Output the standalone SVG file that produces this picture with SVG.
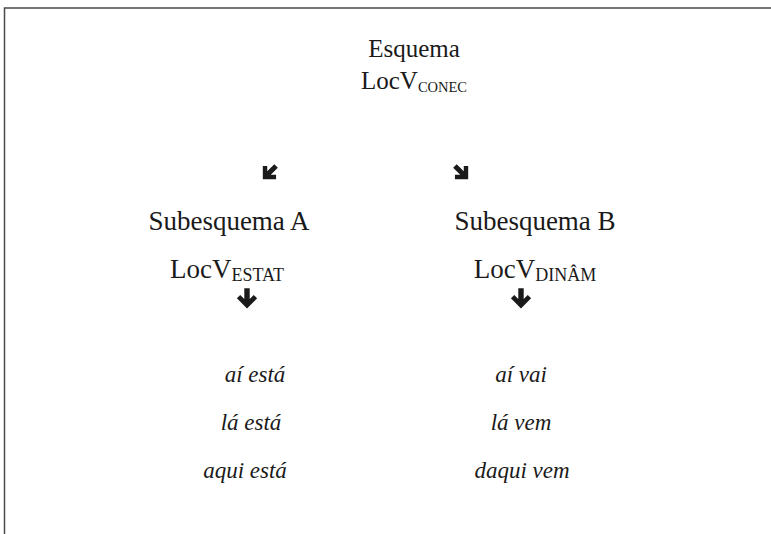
<svg xmlns="http://www.w3.org/2000/svg" width="771" height="534" viewBox="0 0 771 534">
<style>
  .t { font-family: "Liberation Serif", "Times New Roman", serif; fill: #1a1a1a; text-anchor: middle; }
  .h { font-size: 25px; }
  .s { font-size: 27px; }
  .sub1 { font-size: 14.5px; }
  .sub2 { font-size: 18px; }
  .i { font-family: "Liberation Serif", "Times New Roman", serif; font-style: italic; font-size: 23px; fill: #1a1a1a; text-anchor: middle; }
  .frame { stroke: #4a4a4a; stroke-width: 1.5; fill: none; }
  .arrow { fill: #1a1a1a; }
</style>
<defs>
  <path id="darrow" d="M-2,-8 L2,-8 L2,0 L5,-3 L7.5,-0.5 L0,7 L-7.5,-0.5 L-5,-3 L-2,0 Z"/>
</defs>
<rect width="771" height="534" fill="#ffffff"/>
<path class="frame" d="M4.5,534 L4.5,8 L771,8"/>

<g id="esquema">
  <text class="t h" x="414" y="57">Esquema</text>
  <text class="t h" x="414" y="89">LocV<tspan class="sub1" dy="3">CONEC</tspan></text>
</g>

<g id="subesquemaA">
  <text class="t s" x="229" y="230">Subesquema A</text>
  <text class="t s" x="227" y="278">LocV<tspan class="sub2" dy="3">ESTAT</tspan></text>
</g>

<g id="subesquemaB">
  <text class="t s" x="535" y="230">Subesquema B</text>
  <text class="t s" x="535" y="278">LocV<tspan class="sub2" dy="3">DINÂM</tspan></text>
</g>

<g id="exemplosA">
  <text class="i" x="255" y="382">aí está</text>
  <text class="i" x="251" y="430">lá está</text>
  <text class="i" x="245" y="478">aqui está</text>
</g>

<g id="exemplosB">
  <text class="i" x="521" y="382">aí vai</text>
  <text class="i" x="521" y="430">lá vem</text>
  <text class="i" x="522" y="478">daqui vem</text>
</g>

<g id="connectors" class="arrow">
  <use href="#darrow" transform="translate(269,173) rotate(45) scale(1.25)"/>
  <use href="#darrow" transform="translate(462,173) rotate(-45) scale(1.25)"/>
  <use href="#darrow" transform="translate(247,299) scale(1.35)"/>
  <use href="#darrow" transform="translate(521,299) scale(1.35)"/>
</g>
</svg>
